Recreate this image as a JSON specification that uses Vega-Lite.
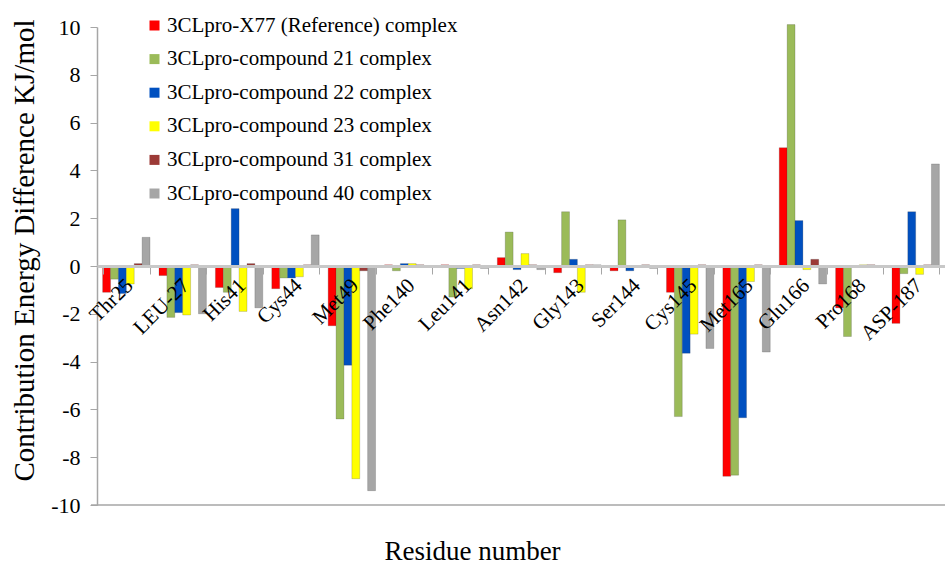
{
  "$schema": "https://vega.github.io/schema/vega-lite/v6.json",
  "autosize": "none",
  "width": 848,
  "height": 478,
  "padding": {"left": 97, "top": 27, "right": 0, "bottom": 63},
  "background": "white",
  "config": {
    "view": {"stroke": null},
    "font": "Liberation Serif"
  },
  "datasets": {
    "energy": [
      {"residue": "Thr25", "complex": "3CLpro-X77 (Reference) complex", "value": -1.1},
      {"residue": "Thr25", "complex": "3CLpro-compound 21 complex", "value": -0.55},
      {"residue": "Thr25", "complex": "3CLpro-compound 22 complex", "value": -1.15},
      {"residue": "Thr25", "complex": "3CLpro-compound 23 complex", "value": -0.75},
      {"residue": "Thr25", "complex": "3CLpro-compound 31 complex", "value": 0.1},
      {"residue": "Thr25", "complex": "3CLpro-compound 40 complex", "value": 1.2},
      {"residue": "LEU-27", "complex": "3CLpro-X77 (Reference) complex", "value": -0.4},
      {"residue": "LEU-27", "complex": "3CLpro-compound 21 complex", "value": -2.15},
      {"residue": "LEU-27", "complex": "3CLpro-compound 22 complex", "value": -1.95},
      {"residue": "LEU-27", "complex": "3CLpro-compound 23 complex", "value": -2.05},
      {"residue": "LEU-27", "complex": "3CLpro-compound 31 complex", "value": 0.05},
      {"residue": "LEU-27", "complex": "3CLpro-compound 40 complex", "value": -2.0},
      {"residue": "His41", "complex": "3CLpro-X77 (Reference) complex", "value": -0.9},
      {"residue": "His41", "complex": "3CLpro-compound 21 complex", "value": -1.1},
      {"residue": "His41", "complex": "3CLpro-compound 22 complex", "value": 2.4},
      {"residue": "His41", "complex": "3CLpro-compound 23 complex", "value": -1.9},
      {"residue": "His41", "complex": "3CLpro-compound 31 complex", "value": 0.1},
      {"residue": "His41", "complex": "3CLpro-compound 40 complex", "value": -1.75},
      {"residue": "Cys44", "complex": "3CLpro-X77 (Reference) complex", "value": -0.95},
      {"residue": "Cys44", "complex": "3CLpro-compound 21 complex", "value": -0.5},
      {"residue": "Cys44", "complex": "3CLpro-compound 22 complex", "value": -0.5},
      {"residue": "Cys44", "complex": "3CLpro-compound 23 complex", "value": -0.45},
      {"residue": "Cys44", "complex": "3CLpro-compound 31 complex", "value": 0.05},
      {"residue": "Cys44", "complex": "3CLpro-compound 40 complex", "value": 1.3},
      {"residue": "Met49", "complex": "3CLpro-X77 (Reference) complex", "value": -2.5},
      {"residue": "Met49", "complex": "3CLpro-compound 21 complex", "value": -6.4},
      {"residue": "Met49", "complex": "3CLpro-compound 22 complex", "value": -4.15},
      {"residue": "Met49", "complex": "3CLpro-compound 23 complex", "value": -8.9},
      {"residue": "Met49", "complex": "3CLpro-compound 31 complex", "value": -0.2},
      {"residue": "Met49", "complex": "3CLpro-compound 40 complex", "value": -9.4},
      {"residue": "Phe140", "complex": "3CLpro-X77 (Reference) complex", "value": 0.05},
      {"residue": "Phe140", "complex": "3CLpro-compound 21 complex", "value": -0.2},
      {"residue": "Phe140", "complex": "3CLpro-compound 22 complex", "value": 0.1},
      {"residue": "Phe140", "complex": "3CLpro-compound 23 complex", "value": 0.1},
      {"residue": "Phe140", "complex": "3CLpro-compound 31 complex", "value": 0.05},
      {"residue": "Phe140", "complex": "3CLpro-compound 40 complex", "value": -0.05},
      {"residue": "Leu141", "complex": "3CLpro-X77 (Reference) complex", "value": 0.05},
      {"residue": "Leu141", "complex": "3CLpro-compound 21 complex", "value": -1.3},
      {"residue": "Leu141", "complex": "3CLpro-compound 22 complex", "value": -0.1},
      {"residue": "Leu141", "complex": "3CLpro-compound 23 complex", "value": -0.95},
      {"residue": "Leu141", "complex": "3CLpro-compound 31 complex", "value": 0.05},
      {"residue": "Leu141", "complex": "3CLpro-compound 40 complex", "value": -0.1},
      {"residue": "Asn142", "complex": "3CLpro-X77 (Reference) complex", "value": 0.35},
      {"residue": "Asn142", "complex": "3CLpro-compound 21 complex", "value": 1.42},
      {"residue": "Asn142", "complex": "3CLpro-compound 22 complex", "value": -0.15},
      {"residue": "Asn142", "complex": "3CLpro-compound 23 complex", "value": 0.52},
      {"residue": "Asn142", "complex": "3CLpro-compound 31 complex", "value": 0.05},
      {"residue": "Asn142", "complex": "3CLpro-compound 40 complex", "value": -0.15},
      {"residue": "Gly143", "complex": "3CLpro-X77 (Reference) complex", "value": -0.28},
      {"residue": "Gly143", "complex": "3CLpro-compound 21 complex", "value": 2.27},
      {"residue": "Gly143", "complex": "3CLpro-compound 22 complex", "value": 0.28},
      {"residue": "Gly143", "complex": "3CLpro-compound 23 complex", "value": -1.1},
      {"residue": "Gly143", "complex": "3CLpro-compound 31 complex", "value": 0.05},
      {"residue": "Gly143", "complex": "3CLpro-compound 40 complex", "value": 0.05},
      {"residue": "Ser144", "complex": "3CLpro-X77 (Reference) complex", "value": -0.2},
      {"residue": "Ser144", "complex": "3CLpro-compound 21 complex", "value": 1.93},
      {"residue": "Ser144", "complex": "3CLpro-compound 22 complex", "value": -0.2},
      {"residue": "Ser144", "complex": "3CLpro-compound 23 complex", "value": -0.05},
      {"residue": "Ser144", "complex": "3CLpro-compound 31 complex", "value": 0.05},
      {"residue": "Ser144", "complex": "3CLpro-compound 40 complex", "value": -0.1},
      {"residue": "Cys145", "complex": "3CLpro-X77 (Reference) complex", "value": -1.1},
      {"residue": "Cys145", "complex": "3CLpro-compound 21 complex", "value": -6.3},
      {"residue": "Cys145", "complex": "3CLpro-compound 22 complex", "value": -3.65},
      {"residue": "Cys145", "complex": "3CLpro-compound 23 complex", "value": -2.85},
      {"residue": "Cys145", "complex": "3CLpro-compound 31 complex", "value": 0.05},
      {"residue": "Cys145", "complex": "3CLpro-compound 40 complex", "value": -3.45},
      {"residue": "Met165", "complex": "3CLpro-X77 (Reference) complex", "value": -8.8},
      {"residue": "Met165", "complex": "3CLpro-compound 21 complex", "value": -8.75},
      {"residue": "Met165", "complex": "3CLpro-compound 22 complex", "value": -6.35},
      {"residue": "Met165", "complex": "3CLpro-compound 23 complex", "value": -0.65},
      {"residue": "Met165", "complex": "3CLpro-compound 31 complex", "value": 0.05},
      {"residue": "Met165", "complex": "3CLpro-compound 40 complex", "value": -3.6},
      {"residue": "Glu166", "complex": "3CLpro-X77 (Reference) complex", "value": 4.95},
      {"residue": "Glu166", "complex": "3CLpro-compound 21 complex", "value": 10.1},
      {"residue": "Glu166", "complex": "3CLpro-compound 22 complex", "value": 1.9},
      {"residue": "Glu166", "complex": "3CLpro-compound 23 complex", "value": -0.15},
      {"residue": "Glu166", "complex": "3CLpro-compound 31 complex", "value": 0.28},
      {"residue": "Glu166", "complex": "3CLpro-compound 40 complex", "value": -0.75},
      {"residue": "Pro168", "complex": "3CLpro-X77 (Reference) complex", "value": -1.75},
      {"residue": "Pro168", "complex": "3CLpro-compound 21 complex", "value": -2.95},
      {"residue": "Pro168", "complex": "3CLpro-compound 22 complex", "value": -0.05},
      {"residue": "Pro168", "complex": "3CLpro-compound 23 complex", "value": 0.05},
      {"residue": "Pro168", "complex": "3CLpro-compound 31 complex", "value": 0.05},
      {"residue": "Pro168", "complex": "3CLpro-compound 40 complex", "value": -0.05},
      {"residue": "ASP-187", "complex": "3CLpro-X77 (Reference) complex", "value": -2.4},
      {"residue": "ASP-187", "complex": "3CLpro-compound 21 complex", "value": -0.32},
      {"residue": "ASP-187", "complex": "3CLpro-compound 22 complex", "value": 2.27},
      {"residue": "ASP-187", "complex": "3CLpro-compound 23 complex", "value": -0.35},
      {"residue": "ASP-187", "complex": "3CLpro-compound 31 complex", "value": 0.05},
      {"residue": "ASP-187", "complex": "3CLpro-compound 40 complex", "value": 4.27}
    ],
    "floor": [{"value": -10}]
  },
  "layer": [
    {
      "data": {"name": "floor"},
      "mark": {"type": "rule", "color": "#a6a6a6", "strokeWidth": 1.5, "x": -6, "x2": 848},
      "encoding": {
        "y": {"field": "value", "type": "quantitative", "scale": {"domain": [-10, 10], "nice": false}}
      }
    },
    {
      "data": {"name": "energy"},
      "mark": {"type": "bar", "strokeWidth": 0.6, "strokeOpacity": 0.35, "stroke": "#333333"},
      "encoding": {
        "x": {
          "field": "residue",
          "type": "nominal",
          "sort": null,
          "scale": {"paddingInner": 0.16, "paddingOuter": 0.1},
          "axis": {
            "zindex": 2,
            "offset": -239,
            "labelAngle": -45,
            "labelAlign": "right",
            "labelBaseline": "middle",
            "labelFont": "Liberation Serif",
            "labelFontSize": 21,
            "labelColor": "#000000",
            "labelPadding": 8,
            "labelOffset": 3,
            "tickBand": "extent",
            "tickSize": 8,
            "tickColor": "#a6a6a6",
            "domainColor": "#c8c8c8",
            "domainWidth": 3,
            "title": "Residue number",
            "titleFont": "Liberation Serif",
            "titleFontSize": 27,
            "titleFontWeight": "normal",
            "titleColor": "#000000",
            "titleX": 375,
            "titleY": 293,
            "titleAlign": "center",
            "titleBaseline": "alphabetic"
          }
        },
        "xOffset": {
          "field": "complex",
          "type": "nominal",
          "sort": null,
          "scale": {"paddingInner": 0, "paddingOuter": 0}
        },
        "y": {
          "field": "value",
          "type": "quantitative",
          "scale": {"domain": [-10, 10], "nice": false},
          "axis": {
            "values": [-10, -8, -6, -4, -2, 0, 2, 4, 6, 8, 10],
            "labelExpr": "replace(datum.label, '\u2212', '-')",
            "grid": false,
            "domainColor": "#a6a6a6",
            "domainWidth": 1.5,
            "tickColor": "#a6a6a6",
            "tickSize": 7,
            "labelFont": "Liberation Serif",
            "labelFontSize": 22,
            "labelColor": "#000000",
            "labelPadding": 10,
            "title": "Contribution Energy Difference KJ/mol",
            "titleFont": "Liberation Serif",
            "titleFontSize": 29,
            "titleFontWeight": "normal",
            "titleColor": "#000000",
            "titleX": -64,
            "titleY": 223,
            "titleAngle": -90,
            "titleAlign": "center",
            "titleBaseline": "alphabetic"
          }
        },
        "color": {
          "field": "complex",
          "type": "nominal",
          "sort": null,
          "scale": {
            "domain": [
              "3CLpro-X77 (Reference) complex",
              "3CLpro-compound 21 complex",
              "3CLpro-compound 22 complex",
              "3CLpro-compound 23 complex",
              "3CLpro-compound 31 complex",
              "3CLpro-compound 40 complex"
            ],
            "range": ["#ff0000", "#9bbb59", "#0050c0", "#ffff00", "#9c3a37", "#a6a6a6"]
          },
          "legend": {
            "orient": "none",
            "legendX": 47,
            "legendY": -12,
            "title": null,
            "symbolType": "square",
            "symbolSize": 100,
            "symbolStrokeWidth": 0,
            "labelFont": "Liberation Serif",
            "labelFontSize": 21,
            "labelColor": "#000000",
            "labelLimit": 400,
            "labelOffset": 2,
            "rowPadding": 11.6
          }
        }
      }
    }
  ]
}
